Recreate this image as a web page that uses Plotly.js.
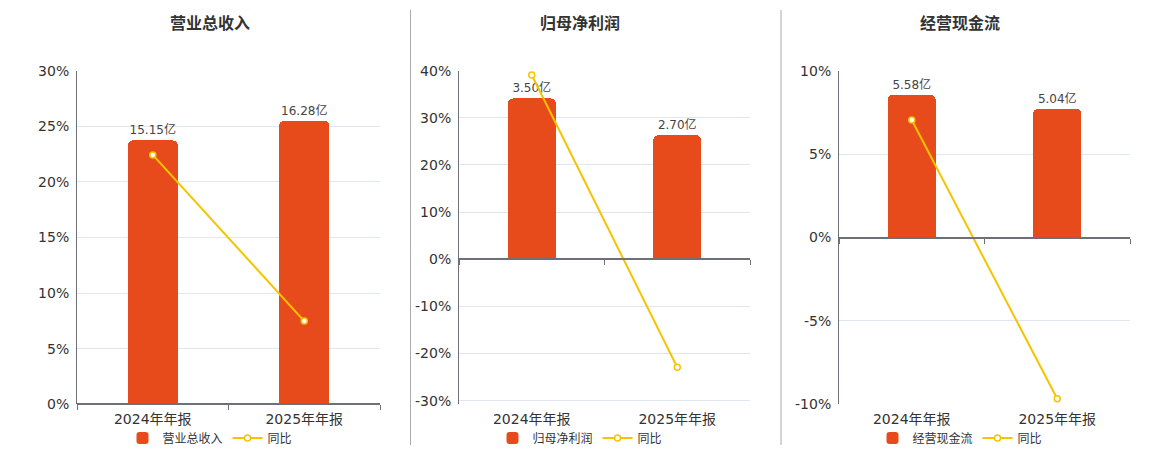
<!DOCTYPE html>
<html>
<head>
<meta charset="utf-8">
<script src="https://cdn.plot.ly/plotly-3.0.1.min.js"></script>
<style>
  html, body { margin: 0; padding: 0; background: #fff; }
  #chart { width: 1160px; height: 450px; }
</style>
</head>
<body>
<div id="chart"></div>
<script>
  // values
  var categories = ['2024年年报', '2025年年报'];
  var revenue = [15.15, 16.28];
  var revenueYoy = [22.43, 7.48];
  var profit = [3.50, 2.70];
  var profitYoy = [39.1, -22.9];
  var cashflow = [5.58, 5.04];
  var cashflowYoy = [7.04, -9.67];
  var titles = ['营业总收入', '归母净利润', '经营现金流'];
  var pctTicks1 = [0, 5, 10, 15, 20, 25, 30];
  var pctTicks2 = [-30, -20, -10, 0, 10, 20, 30, 40];
  var pctTicks3 = [-10, -5, 0, 5, 10];

  var barColor = '#E84B1B';
  var lineColor = '#F5C400';
  var axisColor = '#6E7079';
  var tickFont = {family: 'DejaVu Sans, Noto Sans CJK SC', size: 14, color: '#333'};

  var panels = [
    {bars: revenue, yoy: revenueYoy, name: titles[0], ticks: pctTicks1,
     xdom: [77 / 1160, 380 / 1160], pct: [0, 30], barRange: [0, 19.15], center: 210},
    {bars: profit, yoy: profitYoy, name: titles[1], ticks: pctTicks2,
     xdom: [459 / 1160, 750 / 1160], pct: [-30.77, 40], barRange: [-3.157, 4.105], center: 580},
    {bars: cashflow, yoy: cashflowYoy, name: titles[2], ticks: pctTicks3,
     xdom: [839 / 1160, 1130 / 1160], pct: [-10, 10], barRange: [-6.526, 6.526], center: 960}
  ];

  var ydom = [1 - 404.3 / 450, 1 - 70.7 / 450];

  var data = [];
  var layout = {
    width: 1160,
    height: 450,
    margin: {l: 0, r: 0, t: 0, b: 0, autoexpand: false},
    paper_bgcolor: '#fff',
    plot_bgcolor: 'rgba(0,0,0,0)',
    font: {family: 'Noto Sans CJK SC, DejaVu Sans', color: '#333'},
    bargap: 0,
    annotations: [],
    shapes: []
  };

  panels.forEach(function (p, i) {
    var n = i + 1;
    var xs = n === 1 ? '' : String(n);
    var yBar = n === 1 ? '' : String(n);   // base axis: bars (hidden)
    var yPct = String(n + 3);                // overlay axis: percent, drawn on top
    var xZero = String(n + 3);
    var legendId = n === 1 ? 'legend' : 'legend' + n;

    data.push({
      type: 'bar',
      x: categories,
      y: p.bars,
      name: p.name,
      xaxis: 'x' + xs,
      yaxis: 'y' + yBar,
      width: 0.33,
      marker: {color: barColor, cornerradius: 5},
      texttemplate: '%{y:.2f}亿',
      textposition: 'outside',
      textfont: {family: 'DejaVu Sans, Noto Sans CJK SC', size: 12, color: '#444'},
      cliponaxis: false,
      legend: legendId,
      hoverinfo: 'skip'
    });
    // empty trace so the zero-line axis gets drawn
    data.push({
      type: 'scatter', x: [], y: [],
      xaxis: 'x' + xZero, yaxis: 'y' + yBar,
      showlegend: false, hoverinfo: 'skip'
    });
    data.push({
      type: 'scatter',
      mode: 'lines+markers',
      x: categories,
      y: p.yoy,
      name: '同比',
      xaxis: 'x' + xs,
      yaxis: 'y' + yPct,
      line: {color: lineColor, width: 2},
      marker: {symbol: 'circle', size: 6, color: '#fff', line: {color: lineColor, width: 1.5}},
      cliponaxis: false,
      legend: legendId,
      hoverinfo: 'skip'
    });

    var zeroFrac = (0 - p.barRange[0]) / (p.barRange[1] - p.barRange[0]);
    var zeroPos = ydom[0] + zeroFrac * (ydom[1] - ydom[0]);

    layout['xaxis' + xs] = {
      domain: p.xdom,
      anchor: 'y' + yBar,
      type: 'category',
      range: [-0.5, 1.5],
      showline: false,
      showgrid: false,
      zeroline: false,
      ticks: '',
      tickfont: tickFont,
      ticklabelstandoff: 5,
      fixedrange: true
    };
    layout['xaxis' + xZero] = {
      overlaying: 'x' + xs,
      anchor: 'free',
      position: zeroPos,
      range: [-0.5, 1.5],
      tickvals: [-0.5, 0.5, 1.5],
      ticks: 'outside',
      ticklen: 5,
      tickwidth: 1,
      tickcolor: axisColor,
      showticklabels: false,
      showline: true,
      linecolor: axisColor,
      linewidth: 2,
      showgrid: false,
      zeroline: false,
      fixedrange: true
    };
    layout['yaxis' + yBar] = {
      domain: ydom,
      anchor: 'x' + xs,
      range: p.barRange,
      showticklabels: false,
      showgrid: false,
      zeroline: false,
      showline: false,
      ticks: '',
      fixedrange: true
    };
    layout['yaxis' + yPct] = {
      overlaying: 'y' + yBar,
      anchor: 'x' + xs,
      side: 'left',
      range: p.pct,
      tickmode: 'array',
      tickvals: p.ticks,
      ticktext: p.ticks.map(function (v) { return v + '%'; }),
      showline: true,
      linecolor: axisColor,
      linewidth: 1,
      gridcolor: '#E0E6F1',
      gridwidth: 1,
      zeroline: false,
      ticks: '',
      tickfont: tickFont,
      ticklabelstandoff: 4,
      fixedrange: true
    };
    layout[legendId] = {
      orientation: 'h',
      x: p.center / 1160,
      xanchor: 'center',
      y: 1 - 438 / 450,
      yanchor: 'middle',
      font: {family: 'Noto Sans CJK SC', size: 12, color: '#333'},
      itemwidth: 30,
      tracegroupgap: 0,
      bgcolor: 'rgba(0,0,0,0)'
    };
    layout.annotations.push({
      xref: 'paper', yref: 'paper',
      x: p.center / 1160, y: 1 - 22 / 450,
      xanchor: 'center', yanchor: 'middle',
      text: '<b>' + p.name + '</b>',
      showarrow: false,
      font: {family: 'Noto Sans CJK SC', size: 16, color: '#333'}
    });
  });

  // vertical separators between panels
  [410.5, 781].forEach(function (px) {
    layout.shapes.push({
      type: 'line', xref: 'paper', yref: 'paper',
      x0: px / 1160, x1: px / 1160,
      y0: 1 - 445 / 450, y1: 1 - 10 / 450,
      line: {color: '#AAAAAA', width: 1}
    });
  });

  Plotly.newPlot('chart', data, layout, {displayModeBar: false, staticPlot: true});
</script>
</body>
</html>
